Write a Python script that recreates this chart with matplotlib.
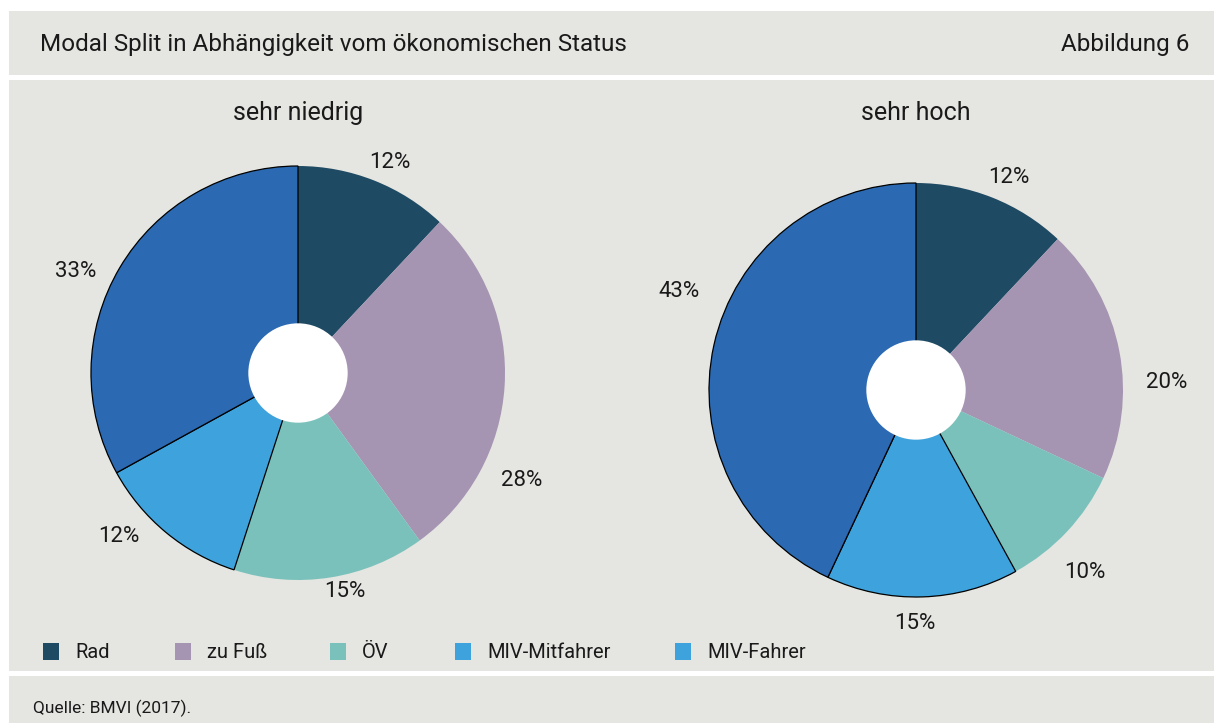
import numpy as np
import matplotlib
matplotlib.use("Agg")
import matplotlib.pyplot as plt
from matplotlib.patches import Rectangle, Circle

plt.rcParams['font.family'] = ['Roboto', 'DejaVu Sans']

categories = ["Rad", "zu Fuß", "ÖV", "MIV-Mitfahrer", "MIV-Fahrer"]
groups = ["sehr niedrig", "sehr hoch"]
low = [12, 28, 15, 12, 33]
high = [12, 20, 10, 15, 43]
colors = ["#1e4a64", "#a594b2", "#7bc1bb", "#3ea2dc", "#2b6ab2"]
legend_colors = ["#1e4a64", "#a594b2", "#7bc1bb", "#3ea2dc", "#3ea2dc"]

W, H = 1214, 723
BG = "#e5e5e1"
TXT = "#1a1a1a"

fig = plt.figure(figsize=(W / 100, H / 100), dpi=100, facecolor="white")


def fx(px):
    return px / W


def fy(py):
    return 1 - py / H


# grey panels
for top, bottom in [(11, 75), (80, 671), (676, 723)]:
    fig.patches.append(Rectangle((fx(9), fy(bottom)), fx(W - 9), (bottom - top) / H,
                                 transform=fig.transFigure, facecolor=BG, edgecolor="none", zorder=-5))

fig.text(fx(40), fy(45), "Modal Split in Abhängigkeit vom ökonomischen Status", fontsize=17.5,
         color=TXT, va="center", ha="left")
fig.text(fx(1189), fy(45), "Abbildung 6", fontsize=17.5, color=TXT, va="center", ha="right")
fig.text(fx(33), fy(708), "Quelle: BMVI (2017).", fontsize=12.5, color=TXT, va="center", ha="left")

# pies: center px, radius px
R = 207
half = 270
lim = half / R
pie_specs = [(298, 373, low), (916, 390, high)]
# angular nudges (deg) and radial distance for the value labels
label_nudge = [[-2, -22, 3, -8, 6], [-2, -9, -4, -2, -10]]
label_dist = [[1.11, 1.2, 1.08, 1.17, 1.18], [1.12, 1.21, 1.2, 1.13, 1.24]]

for i, (cx, cy, vals) in enumerate(pie_specs):
    ax = fig.add_axes([fx(cx - half), fy(cy + half), 2 * half / W, 2 * half / H])
    ax.set_zorder(5)
    ax.patch.set_visible(False)
    wedges, _ = ax.pie(vals, colors=colors, startangle=90, counterclock=False,
                       wedgeprops=dict(linewidth=0), radius=1.0)
    for w in wedges[3:]:
        w.set_edgecolor("black")
        w.set_linewidth(0.9)
    ax.set_aspect("auto")
    ax.set_xlim(-lim, lim)
    ax.set_ylim(-lim, lim)
    ax.axis("off")
    ax.add_patch(Circle((0, 0), 0.24, facecolor="white", edgecolor="none", zorder=5))
    cum = np.cumsum([0] + vals)
    for j, v in enumerate(vals):
        mid = 90 - (cum[j] + v / 2) * 3.6 + label_nudge[i][j]
        d = label_dist[i][j]
        ax.text(d * np.cos(np.radians(mid)), d * np.sin(np.radians(mid)), f"{v}%",
                fontsize=16, color=TXT, ha="center", va="center")
    fig.text(fx(cx), fy(113), groups[i], fontsize=18, color=TXT, ha="center", va="center")

# legend
sq_x = [43, 175, 330, 455, 675]
for k, name in enumerate(categories):
    fig.patches.append(Rectangle((fx(sq_x[k]), fy(660)), 16 / W, 17 / H, transform=fig.transFigure,
                                 facecolor=legend_colors[k], edgecolor="none"))
    fig.text(fx(sq_x[k] + 32), fy(652), name, fontsize=14.5, color=TXT, ha="left", va="center")

fig.savefig("out.png", dpi=100, facecolor="white")
